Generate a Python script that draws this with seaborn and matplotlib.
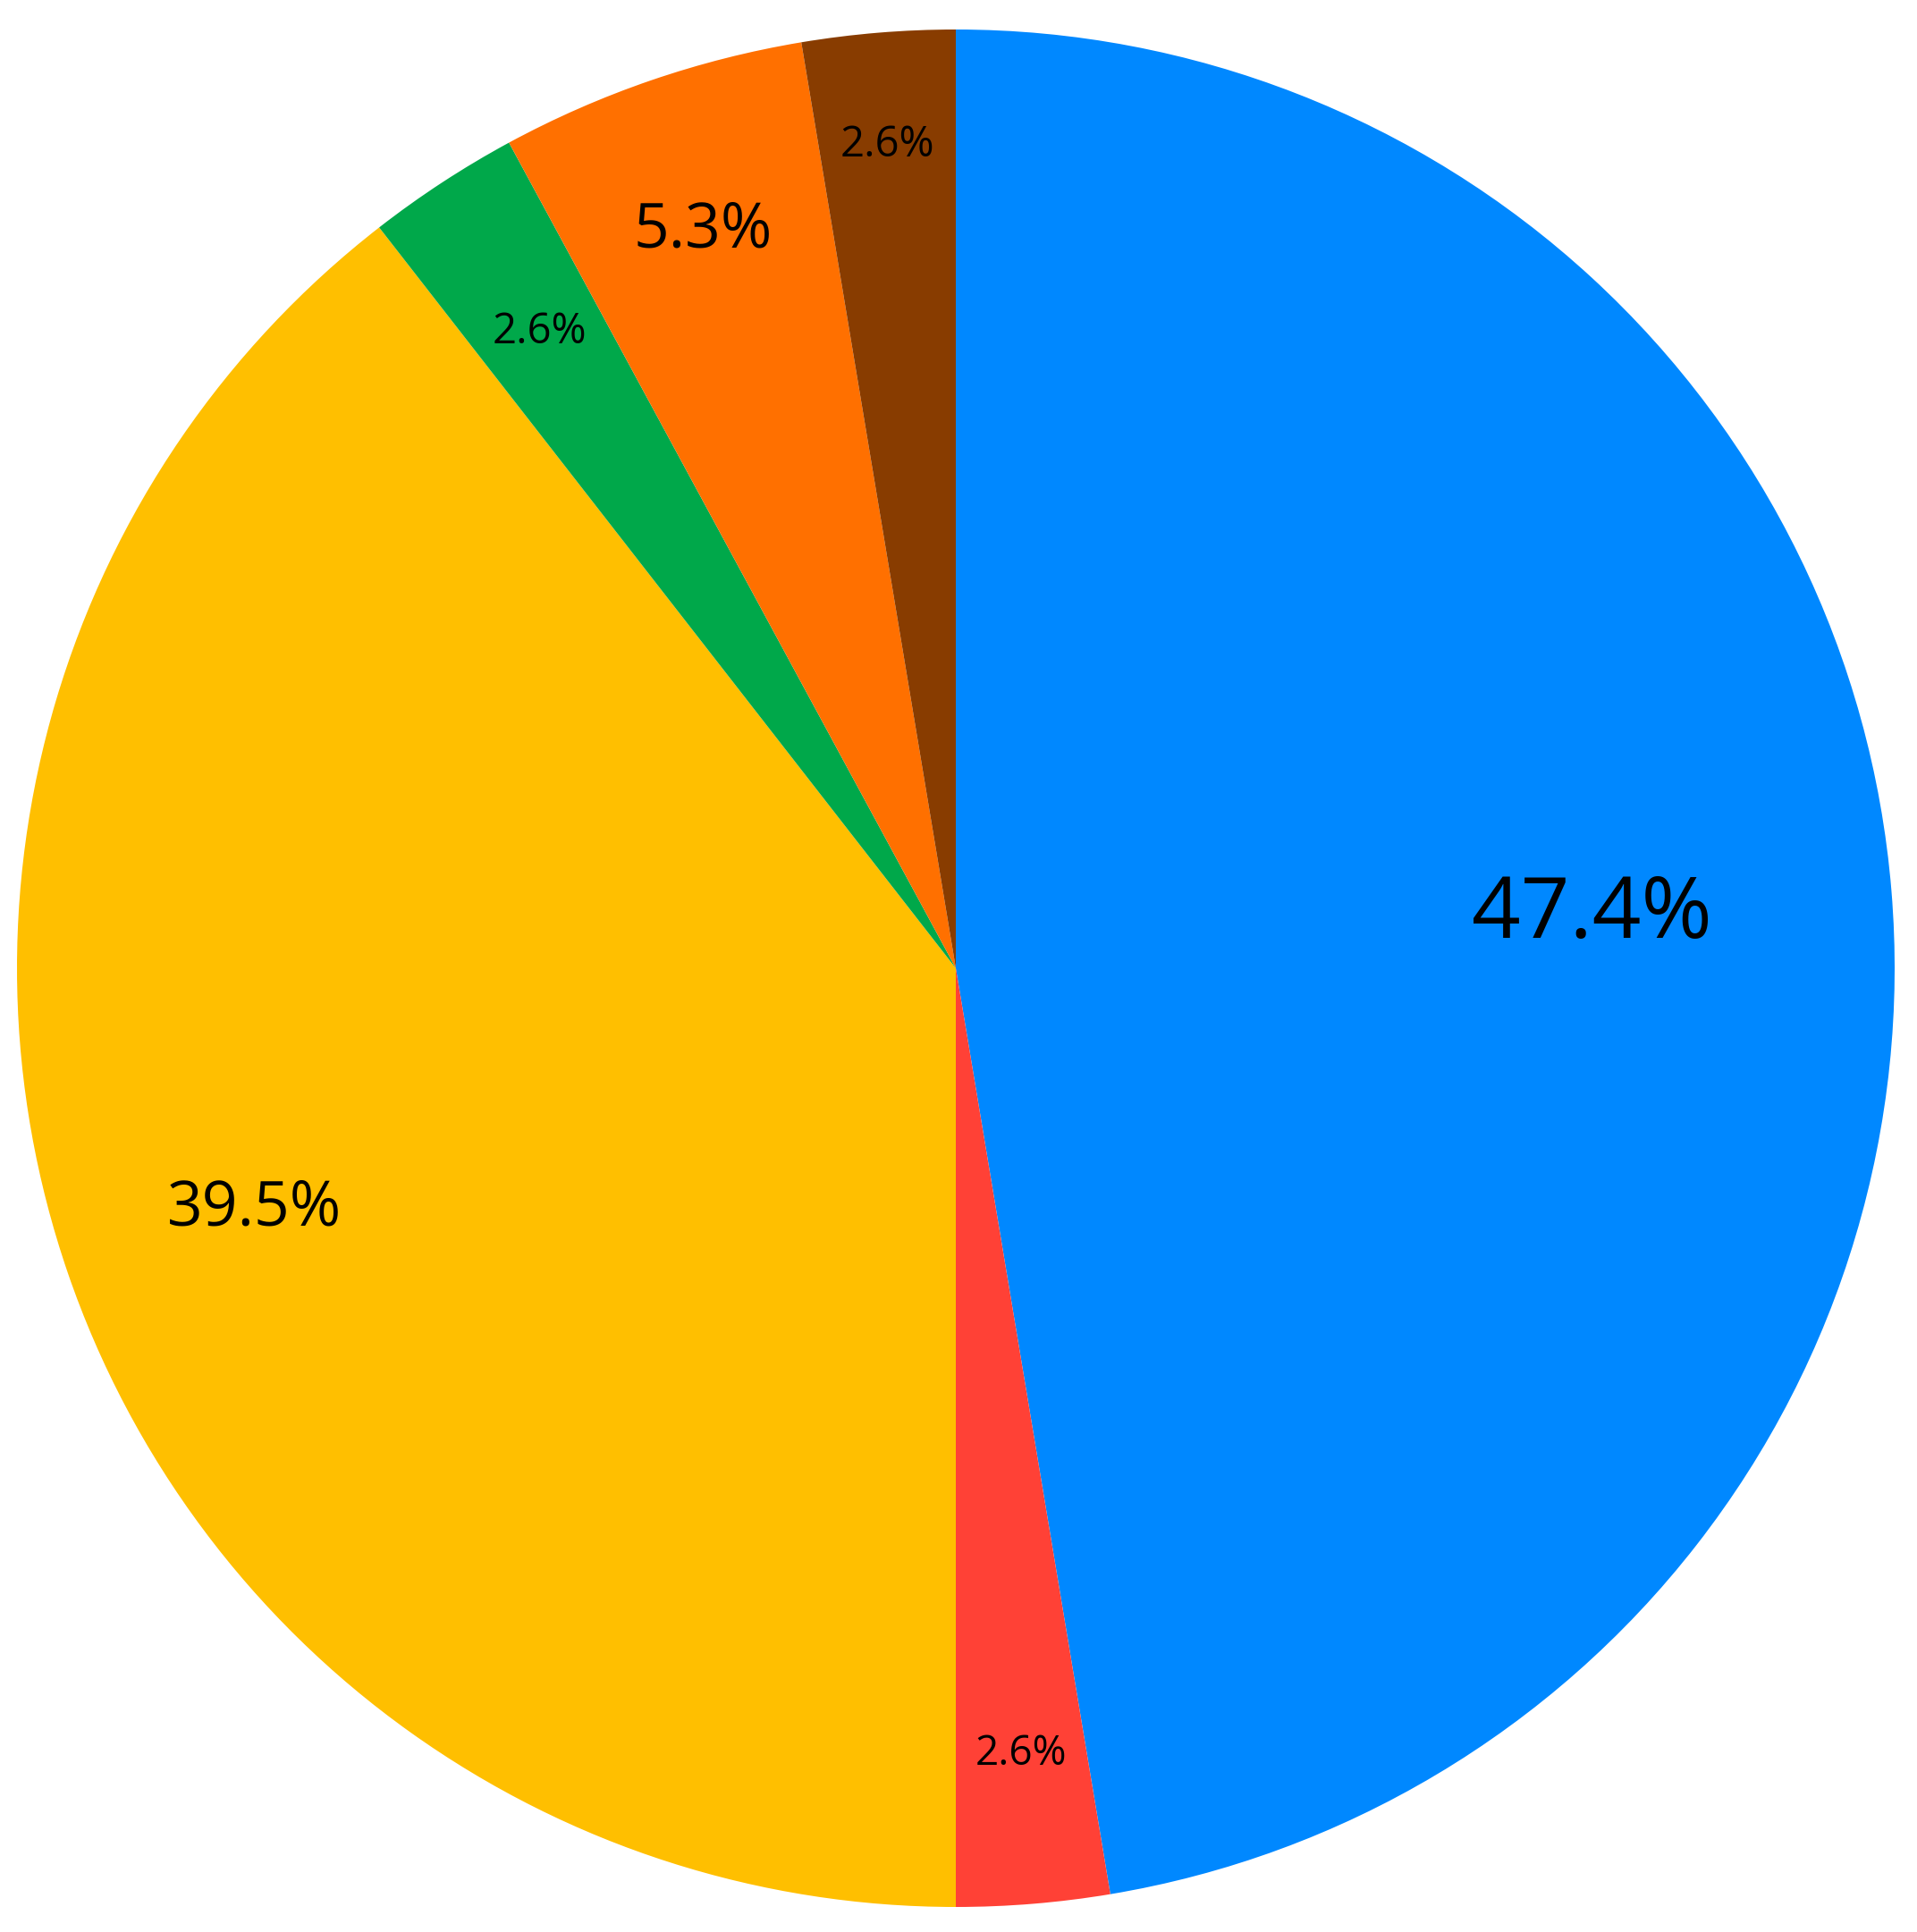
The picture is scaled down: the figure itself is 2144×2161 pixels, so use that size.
import matplotlib
matplotlib.use("Agg")
import matplotlib.pyplot as plt
import seaborn as sns
import numpy as np

# --- data --- #
categories = ["A", "B", "C", "D", "E", "F"]
counts = [18, 1, 15, 1, 2, 1]
colors = ["#0088FF", "#FF4136", "#FFBF00", "#00A84A", "#FF7000", "#883C00"]

# --- label styling --- #
label_dist = [0.68, 0.84, 0.79, 0.81, 0.83, 0.88]
label_size = [69, 33, 50, 34, 50, 34]

sns.set_theme(style="white")
plt.rcParams['font.family'] = ['Open Sans', 'DejaVu Sans']

fig = plt.figure(figsize=(21.44, 21.61), dpi=100)
ax = fig.add_axes([0, 0, 1, 1])

wedges, _ = ax.pie(counts, colors=colors, startangle=90, counterclock=False,
                   radius=1.0, wedgeprops=dict(linewidth=0))

total = sum(counts)
for w, c, d, s in zip(wedges, counts, label_dist, label_size):
    mid = np.deg2rad((w.theta1 + w.theta2) / 2)
    ax.text(d * np.cos(mid), d * np.sin(mid), f"{100 * c / total:.1f}%",
            ha="center", va="center", fontsize=s, color="black")

# place pie: center ~ (1069, 1083) px from top-left, radius ~1050 px
r_px = 1050
ax.set_xlim(-1069 / r_px, (2144 - 1069) / r_px)
ax.set_ylim(-(2161 - 1083) / r_px, 1083 / r_px)
ax.set_aspect("auto")
ax.axis("off")

fig.savefig("out.png", dpi=100, facecolor="white")
